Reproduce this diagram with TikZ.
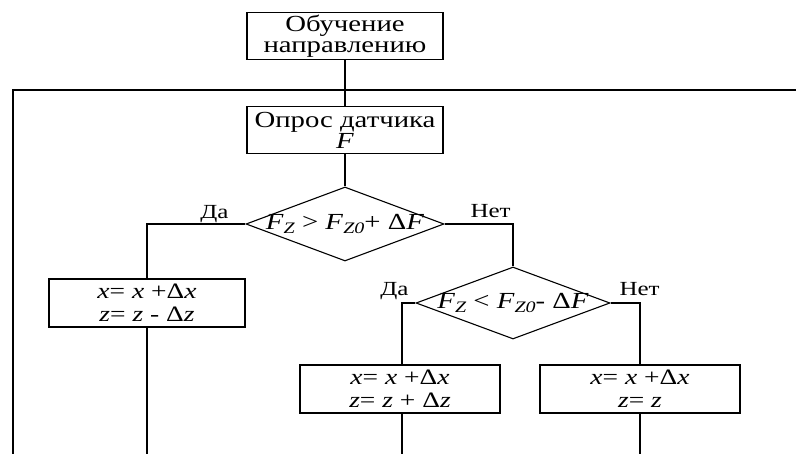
\documentclass[tikz,border=0pt]{standalone}
\usepackage{fontspec}
\setmainfont{Liberation Serif}[FakeStretch=1.25]
\usepackage{tikz}
\usetikzlibrary{shapes.geometric, positioning}

\newcommand{\lowsub}[1]{\raisebox{-0.35ex}{\fontsize{16}{16}\selectfont\itshape #1}}
\newcommand{\vx}{\textit{x}}
\newcommand{\vz}{\textit{z}}
\newcommand{\vF}{\textit{F}}
\newcommand{\dtext}[1]{\smash{\makebox[0pt]{\raisebox{-6pt}{#1}}}}

\begin{document}
\begin{tikzpicture}[
  x=1pt, y=-1pt, line width=1.1pt,
  block/.style={draw, rectangle, minimum width=196pt, minimum height=47pt,
                inner sep=0pt, align=center, font=\fontsize{23}{21}\selectfont},
  calc/.style={block, minimum width=200pt, minimum height=48pt,
               font=\fontsize{22}{23}\selectfont},
  decision/.style={draw, diamond, inner sep=0pt,
                   font=\fontsize{23}{21}\selectfont},
  lbl/.style={anchor=base, inner sep=0pt, font=\fontsize{20}{20}\selectfont}
]
  \useasboundingbox (0,0) rectangle (796,454);

  \node[block] (learn) at (345,36)  {Обучение\\направлению};
  \node[block] (poll)  at (345,130) {Опрос датчика\\\vF};
  \node[decision, minimum width=198pt, minimum height=74pt] (chk1) at (345,224)
    {\dtext{\vF\lowsub{Z} > \vF\lowsub{Z0}+ Δ\vF}};
  \node[decision, minimum width=194pt, minimum height=72pt] (chk2) at (513,303)
    {\dtext{\vF\lowsub{Z} < \vF\lowsub{Z0}- Δ\vF}};
  \node[calc, minimum width=196pt] (down) at (147,303) {\vx{}= \vx{} +Δ\vx\\\vz{}= \vz{} - Δ\vz};
  \node[calc] (up)   at (400,389) {\vx{}= \vx{} +Δ\vx\\\vz{}= \vz{} + Δ\vz};
  \node[calc] (keep) at (640,389) {\vx{}= \vx{} +Δ\vx\\\vz{}= \vz};

  % loop back line
  \coordinate (loopR) at (796,90);
  \coordinate (loopL) at (13,90);
  \coordinate (loopB) at (13,454);
  \coordinate (downB) at (147,454);
  \coordinate (upB)   at (402,454);
  \coordinate (keepB) at (640,454);

  \draw (loopR) -- (loopL) -- (loopB);
  \draw (learn) -- (poll);
  \draw (poll) -- (chk1);
  \draw (chk1.west) node[lbl, xshift=-31pt, yshift=5pt]{Да} -| (down.north);
  \draw (chk1.east) node[lbl, xshift=46pt, yshift=6pt]{Нет} -| (chk2.north);
  \draw (chk2.west) node[lbl, xshift=-21pt, yshift=7pt]{Да} -| (up.north -| upB);
  \draw (chk2.east) node[lbl, xshift=29pt, yshift=7pt]{Нет} -| (keep.north);
  \draw (down) -- (downB);
  \draw (up.south -| upB) -- (upB);
  \draw (keep) -- (keepB);
\end{tikzpicture}
\end{document}
